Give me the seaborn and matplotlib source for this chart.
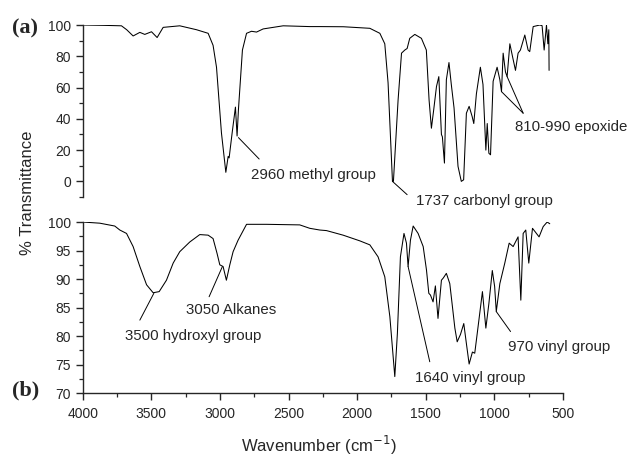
import pandas as pd
import numpy as np
import seaborn as sns
import matplotlib.pyplot as plt
from matplotlib.ticker import MultipleLocator

sns.set_style("ticks")
plt.rcParams["font.family"] = ["Liberation Sans", "DejaVu Sans"]
plt.rcParams["xtick.direction"] = "out"
plt.rcParams["ytick.direction"] = "out"

# spectrum (a)
wn_a = [4000, 3850, 3718, 3680, 3633, 3584, 3548, 3499, 3458, 3414, 3293, 3171,
        3086, 3050, 3025, 2989, 2957, 2940, 2933, 2911, 2887, 2875, 2865, 2836,
        2806, 2770, 2733, 2685, 2539, 2345, 2272, 2100, 1907, 1834, 1798, 1774,
        1742, 1735, 1701, 1676, 1652, 1635, 1616, 1579, 1531, 1495, 1475, 1458,
        1441, 1421, 1404, 1385, 1378, 1363, 1349, 1330, 1313, 1293, 1264, 1240,
        1223, 1203, 1183, 1161, 1149, 1130, 1101, 1082, 1061, 1051, 1039, 1027,
        1008, 979, 959, 947, 935, 918, 906, 886, 867, 845, 826, 809, 777, 753,
        741, 716, 668, 651, 636, 619, 609, 602, 600]
t_a = [100, 99.8, 99.5, 97, 93, 95.3, 94, 95.7, 92, 98.5, 99.5, 97,
       94.7, 87, 73, 31, 5.8, 16, 15, 31, 47.5, 29, 46, 84,
       94.7, 96, 95.5, 97.5, 99.5, 99, 99, 98.9, 97.9, 94.7, 88, 63,
       0, 0, 52, 82, 84, 85, 91.5, 94, 91.5, 84, 52, 34,
       46, 60.7, 67, 30, 28.5, 11.7, 65, 76, 62, 47, 9.6, 0,
       1, 43.6, 48, 41.5, 37, 56, 73, 62, 20, 37, 18, 17,
       64, 73, 65, 57.4, 82, 70, 67, 88, 80, 71, 82, 84, 93.6, 84,
       83, 99, 100, 99.6, 84, 100, 88, 97, 71]

# spectrum (b)
wn_b = [4000, 3876, 3767, 3730, 3681, 3633, 3584, 3535, 3487, 3443, 3390, 3341,
        3293, 3220, 3147, 3086, 3050, 3021, 3001, 2977, 2953, 2928, 2904, 2868,
        2806, 2661, 2418, 2345, 2272, 2223, 2102, 1980, 1907, 1847, 1798, 1761,
        1725, 1706, 1684, 1658, 1640, 1628, 1611, 1591, 1555, 1518, 1494, 1477,
        1465, 1446, 1429, 1410, 1385, 1371, 1349, 1324, 1304, 1287, 1270, 1246,
        1222, 1203, 1183, 1159, 1142, 1118, 1086, 1061, 1039, 1014, 997, 985,
        959, 923, 891, 862, 826, 806, 789, 770, 748, 721, 673, 643, 614, 595]
t_b = [100, 99.8, 99.3, 98.6, 98, 95.7, 92.2, 89, 87.6, 87.8, 89.8, 92.8,
       94.8, 96.5, 97.8, 97.7, 97.1, 94.5, 92.5, 92.2, 89.8, 92.5, 94.8, 96.8,
       99.6, 99.6, 99.5, 98.9, 98.6, 98.5, 97.7, 96.7, 96, 93.9, 90.4, 83.4,
       72.9, 80.5, 93.9, 98, 96.3, 92.2, 96.8, 99.3, 98, 95.7, 91.6, 87.5,
       87.2, 86, 88.8, 83.1, 89.8, 90.2, 91, 89.2, 85, 81.4, 79, 80.3,
       82.2, 78.7, 75.1, 77.2, 77, 81.6, 87.8, 81.4, 85.7, 91.5, 88.7, 84.3,
       89.2, 92.8, 96.3, 95.7, 97.4, 86.3, 98, 98.6, 92.8, 98.9, 97.4, 99.2, 100, 99.7]

# annotations: label, peak points, line end, text position
notes_a = [
    ("2960 methyl group", [(2865, 28)], (2714, 14.3), (2777, 4.3)),
    ("1737 carbonyl group", [(1742, 0)], (1635, -8.5), (1572, -12.7)),
    ("810-990 epoxide", [(947, 57.4), (906, 67)], (789, 43.6), (845, 34.5)),
]
notes_b = [
    ("3500 hydroxyl group", [(3482, 87.5)], (3584, 82.8), (3694, 80)),
    ("3050 Alkanes", [(2982, 92.2)], (3079, 86.9), (3244, 84.6)),
    ("1640 vinyl group", [(1628, 92.2)], (1470, 75.5), (1579, 72.6)),
    ("970 vinyl group", [(985, 84.3)], (881, 80.8), (899, 78.1)),
]

df_a = pd.DataFrame({"wn": wn_a, "T": t_a})
df_b = pd.DataFrame({"wn": wn_b, "T": t_b})

fig = plt.figure(figsize=(6.32, 4.55), dpi=100)
ax_a = fig.add_axes([0.131, 0.567, 0.7595, 0.378])
ax_b = fig.add_axes([0.131, 0.136, 0.7595, 0.376])

for ax, df, notes in [(ax_a, df_a, notes_a), (ax_b, df_b, notes_b)]:
    sns.lineplot(data=df, x="wn", y="T", ax=ax, color="black", lw=0.75,
                 sort=False, estimator=None)
    for label, pts, end, txt in notes:
        for p in pts:
            ax.annotate("", xy=p, xytext=end,
                        arrowprops=dict(arrowstyle="-", lw=0.7, color="black",
                                        shrinkA=0, shrinkB=0))
        ax.text(txt[0], txt[1], label, ha="left", va="center", fontsize=10.8)
    ax.set_xlim(4000, 500)
    ax.set_xlabel("")
    ax.set_ylabel("")
    for s in ax.spines.values():
        s.set_linewidth(1.0)
    ax.tick_params(which="major", length=5, width=1.0, labelsize=10)
    ax.tick_params(which="minor", length=2.8, width=0.9)

sns.despine(ax=ax_a, bottom=True)
sns.despine(ax=ax_b)
ax_a.set_ylim(-10, 100)
ax_a.set_yticks([0, 20, 40, 60, 80, 100])
ax_a.yaxis.set_minor_locator(MultipleLocator(10))
ax_a.set_xticks([])

ax_b.set_ylim(70, 100)
ax_b.set_yticks([70, 75, 80, 85, 90, 95, 100])
ax_b.yaxis.set_minor_locator(MultipleLocator(2.5))
ax_b.set_xticks([4000, 3500, 3000, 2500, 2000, 1500, 1000, 500])
ax_b.xaxis.set_minor_locator(MultipleLocator(250))
ax_b.tick_params(axis="x", pad=5)

fig.text(0.043, 0.576, "% Transmittance", rotation=90, ha="center", va="center", fontsize=12)
fig.text(0.505, 0.022, "Wavenumber (cm$^{-1}$)", ha="center", va="center", fontsize=12)
fig.text(0.019, 0.938, "(a)", ha="left", va="center", fontsize=16,
         family="Liberation Serif", weight="bold")
fig.text(0.019, 0.141, "(b)", ha="left", va="center", fontsize=16,
         family="Liberation Serif", weight="bold")

fig.savefig("out.png", dpi=100)
